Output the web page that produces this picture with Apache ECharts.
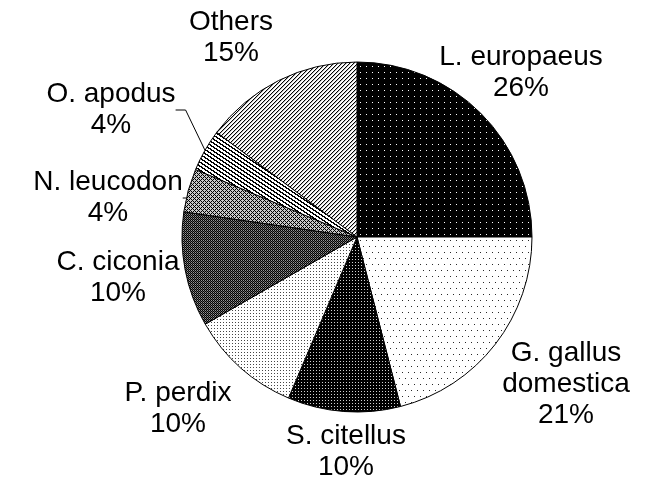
<!DOCTYPE html>
<html>
<head>
<meta charset="utf-8">
<script src="https://cdn.jsdelivr.net/npm/echarts@6/dist/echarts.min.js"></script>
<style>
html,body{margin:0;padding:0;background:#fff;}
#chart{width:653px;height:477px;}
</style>
</head>
<body>
<div id="chart"></div>
<script>
// ---- data ----
const categories = ['L. europaeus', 'G. gallus\ndomestica', 'S. citellus', 'P. perdix', 'C. ciconia', 'N. leucodon', 'O. apodus', 'Others'];
const values = [25.0, 21.0, 10.4, 10.3, 10.6, 4.0, 3.9, 14.8];
const percentLabels = ['26%', '21%', '10%', '10%', '10%', '4%', '4%', '15%'];

// ---- fill patterns ----
function makePattern(w, h, fn) {
  const c = document.createElement('canvas');
  c.width = w; c.height = h;
  const ctx = c.getContext('2d');
  const img = ctx.createImageData(w, h);
  for (let y = 0; y < h; y++) {
    for (let x = 0; x < w; x++) {
      const v = fn(x, y);
      const i = (y * w + x) * 4;
      img.data[i] = v; img.data[i + 1] = v; img.data[i + 2] = v; img.data[i + 3] = 255;
    }
  }
  ctx.putImageData(img, 0, 0);
  return { image: c, repeat: 'repeat' };
}
const mod = (a, n) => ((a % n) + n) % n;
const patterns = [
  makePattern(6, 6, (x, y) => (x === 0 && y === 0) ? 255 : 0),                       // L. europaeus
  makePattern(6, 12, (x, y) => ((x === 0 && y === 0) || (x === 3 && y === 6)) ? 40 : 255), // G. gallus
  makePattern(3, 3, (x, y) => (x === 1 && y === 1) ? 210 : 0),                       // S. citellus
  makePattern(3, 3, (x, y) => (x === 1 && y === 1) ? 70 : 255),                      // P. perdix
  makePattern(4, 4, (x, y) => ((x + y) % 2 === 0) ? 0 : ((x % 2 === 0) ? 90 : 150)), // C. ciconia
  makePattern(4, 4, (x, y) => ((x + y) % 4 === 0 || mod(x - y, 4) === 0) ? 0 : 200), // N. leucodon
  makePattern(6, 4, (x, y) => mod(3 * y - 2 * x, 12) < 5 ? 0 : 255),                 // O. apodus
  makePattern(4, 4, (x, y) => { const k = (x + y) % 4; return k === 0 ? 0 : (k === 1 ? 190 : 255); }) // Others
];

// label block centres (layout)
const labelPos = [
  [521, 73], [566, 384], [346, 452], [178, 409], [118, 278], [108, 198], [111, 110], [231, 38]
];
const withLine = [false, false, false, false, false, true, true, false];

const seriesData = categories.map((name, i) => ({
  name: name,
  value: values[i],
  itemStyle: { color: patterns[i] },
  label: { formatter: name + '\n' + percentLabels[i] },
  labelLine: { show: withLine[i] }
}));

const chart = echarts.init(document.getElementById('chart'), null, { renderer: 'canvas' });
chart.setOption({
  animation: false,
  backgroundColor: '#fff',
  series: [{
    type: 'pie',
    center: [357, 237],
    radius: 175,
    startAngle: 90,
    clockwise: true,
    avoidLabelOverlap: false,
    itemStyle: { borderColor: '#000', borderWidth: 1 },
    label: {
      show: true,
      position: 'outside',
      color: '#000',
      fontFamily: 'Liberation Sans, Arial, sans-serif',
      fontSize: 28,
      lineHeight: 31,
      align: 'center'
    },
    labelLine: {
      show: true,
      length: 10,
      length2: 10,
      lineStyle: { color: '#000', width: 1 }
    },
    labelLayout: function (params) {
      const p = labelPos[params.dataIndex];
      return { x: p[0], y: p[1], align: 'center', verticalAlign: 'middle' };
    },
    emphasis: { disabled: true },
    data: seriesData
  }]
});
</script>
</body>
</html>
